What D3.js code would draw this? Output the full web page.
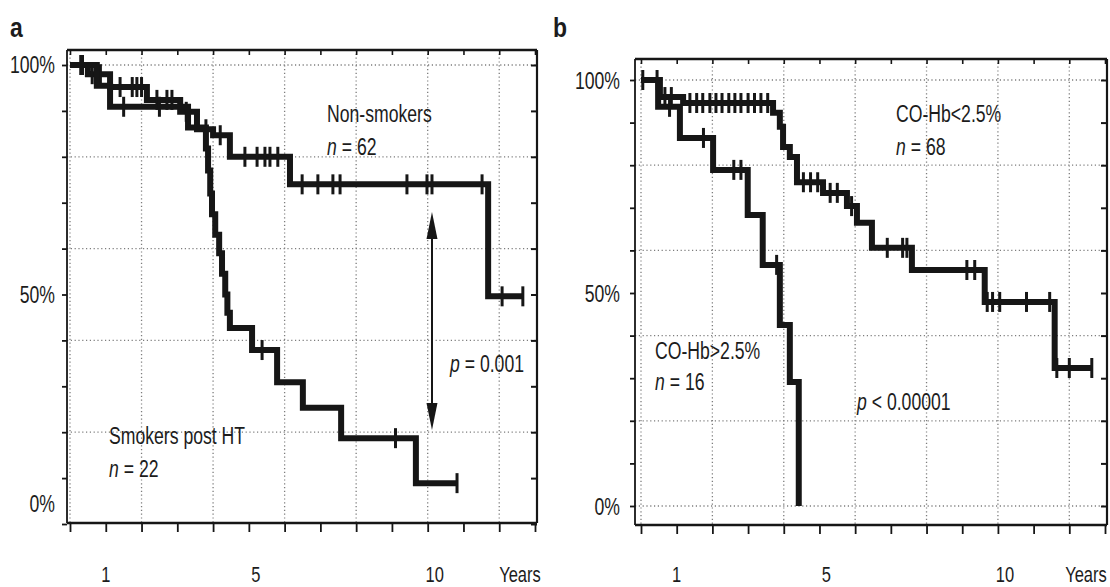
<!DOCTYPE html>
<html>
<head>
<meta charset="utf-8">
<script src="https://cdn.jsdelivr.net/npm/d3@7"></script>
<style>
  html, body { margin: 0; padding: 0; background: #fff; }
  svg { display: block; }
  text { font-family: "Liberation Sans", Arial, Helvetica, sans-serif; fill: #1c1c1c; }
</style>
</head>
<body>
<svg id="chart" width="1110" height="587"></svg>
<script>
// ---------------- data ----------------
const yearTicks = d3.range(0, 14);            // one tick per year
const pctTicks = d3.range(0, 101, 10);        // one tick per 10 %
const gridYears = [0, 2, 4, 6, 8, 10, 12];
const gridPcts = [0, 20, 40, 60, 80, 100];
const yearLabels = [1, 5, 10];
const pctLabels = [100, 50, 0];

// Panel a: survival by smoking status after HT
const nonSmokersTime = [0, 0.5, 1.12, 2.15, 3.08, 3.55, 4.0, 4.47, 6.15, 11.69];
const nonSmokersSurv = [100, 98, 95.2, 92.4, 89.8, 86, 84.7, 80, 74, 49.6];
const nonSmokersEnd = 12.66;
const nonSmokersCensored = [0.3, 0.62, 0.85, 1.4, 1.74, 1.87, 2.0, 2.43, 2.71, 2.85, 3.25, 3.8,
  4.2, 4.89, 5.23, 5.45, 5.59, 5.81, 6.49, 6.93, 7.35, 7.55, 9.42, 9.98, 10.12, 11.52, 12.08, 12.66];

const smokersTime = [0, 0.75, 1.12, 3.3, 3.8, 3.86, 3.92, 3.97, 4.06, 4.17, 4.25, 4.34, 4.4, 4.47,
  5.09, 5.79, 6.51, 7.58, 9.67];
const smokersSurv = [100, 95.5, 90.9, 86.4, 81.8, 77, 72, 67.5, 63, 59, 54.5, 50, 46, 42.7,
  37.9, 30.9, 25.3, 18.7, 8.9];
const smokersEnd = 10.82;
const smokersCensored = [0.35, 1.5, 2.5, 5.37, 9.1, 10.82];

// Arrow between the two curves, panel a
const arrowYear = 10.12;
const arrowLow = 20.5;
const arrowHigh = 68;

// Panel b: survival by CO-Hb level
const lowCoHbTime = [0, 0.53, 1.18, 3.7, 3.89, 3.98, 4.17, 4.37, 5.1, 5.77, 6.05, 6.47, 7.59, 9.63, 11.59];
const lowCoHbSurv = [100, 96, 94.6, 92.3, 89, 84.3, 81.9, 76, 73.5, 70.4, 66.5, 60.6, 55.4, 47.9, 32.4];
const lowCoHbEnd = 12.65;
const lowCoHbCensored = [0.05, 0.45, 0.67, 0.85, 1.37, 1.56, 1.73, 1.93, 2.1, 2.27, 2.46, 2.63, 2.8,
  3.0, 3.18, 3.36, 3.55, 4.55, 4.75, 4.95, 5.3, 5.5, 5.9, 6.9, 7.33, 7.45, 9.13, 9.35, 9.7, 9.85,
  10.05, 10.8, 11.45, 11.65, 12.0, 12.63];

const highCoHbTime = [0, 0.48, 1.09, 2.02, 2.99, 3.41, 3.89, 4.17, 4.42];
const highCoHbSurv = [100, 93.7, 86.4, 78.9, 68.3, 56.6, 42.5, 29.1, 0];
const highCoHbEnd = 4.42;
const highCoHbCensored = [0.8, 1.75, 2.6, 2.8, 3.8];

// ---------------- drawing ----------------
const svg = d3.select("#chart");
const INK = "#161616";
const FONT = 23.5;
const SQUEEZE = 0.75;   // condensed face

function addText(g, x, y, parts, opts = {}) {
  const t = g.append("text")
    .attr("transform", `translate(${x},${y}) scale(${opts.sx || SQUEEZE},1)`)
    .attr("text-anchor", opts.anchor || "start")
    .attr("font-size", opts.size || FONT)
    .attr("font-weight", opts.weight || "normal");
  parts.forEach(p => {
    const s = typeof p === "string" ? { s: p } : p;
    t.append("tspan").attr("font-style", s.italic ? "italic" : "normal").text(s.s);
  });
  return t;
}

function survAt(times, surv, t) {
  const i = Math.max(0, d3.bisectRight(times, t) - 1);
  return surv[i];
}

function drawPanel(cfg) {
  const g = svg.append("g");
  const x = d3.scaleLinear().domain([0, 13]).range(cfg.xRange);
  const y = d3.scaleLinear().domain([0, 100]).range(cfg.yRange);
  const { left, right, top, bottom } = cfg.frame;

  // dotted grid
  const grid = g.append("g").attr("stroke", "#7d7d7d").attr("stroke-width", 1.3)
    .attr("stroke-dasharray", "1.2,2.6").attr("fill", "none");
  cfg.gridPcts.forEach(p => grid.append("line")
    .attr("x1", left).attr("x2", right).attr("y1", y(p)).attr("y2", y(p)));
  gridYears.forEach(v => grid.append("line")
    .attr("x1", x(v)).attr("x2", x(v)).attr("y1", top).attr("y2", bottom));

  // frame
  const frame = g.append("g").attr("stroke", INK).attr("fill", "none");
  frame.append("line").attr("x1", left).attr("x2", right).attr("y1", top).attr("y2", top).attr("stroke-width", 2.4);
  frame.append("line").attr("x1", right).attr("x2", right).attr("y1", top).attr("y2", bottom).attr("stroke-width", 2.2);
  frame.append("line").attr("x1", left).attr("x2", left).attr("y1", top).attr("y2", bottom).attr("stroke-width", 1.8);

  // bottom axis (years)
  const xAxis = d3.axisBottom(x).tickValues(yearTicks).tickSize(9).tickFormat("");
  const gx = g.append("g").attr("transform", `translate(0,${bottom})`).call(xAxis);
  gx.select(".domain").attr("d", `M${left},0H${right}`).attr("stroke", INK).attr("stroke-width", 2.6);
  gx.selectAll(".tick line").attr("stroke", INK).attr("stroke-width", 1.8);

  // top ticks
  const xTop = d3.axisBottom(x).tickValues(yearTicks).tickSize(5).tickFormat("");
  const gt = g.append("g").attr("transform", `translate(0,${top})`).call(xTop);
  gt.select(".domain").remove();
  gt.selectAll(".tick line").attr("stroke", INK).attr("stroke-width", 1.6);

  // left axis (percent)
  const yAxis = d3.axisLeft(y).tickValues(pctTicks).tickSize(5).tickFormat("");
  const gy = g.append("g").attr("transform", `translate(${left},0)`).call(yAxis);
  gy.select(".domain").remove();
  gy.selectAll(".tick line").attr("stroke", INK).attr("stroke-width", 1.8);

  // right inner ticks
  const yRight = d3.axisLeft(y).tickValues(pctTicks).tickSize(6).tickFormat("");
  const gr = g.append("g").attr("transform", `translate(${right},0)`).call(yRight);
  gr.select(".domain").remove();
  gr.selectAll(".tick line").attr("stroke", INK).attr("stroke-width", 2);

  // percent labels
  pctLabels.forEach(p => addText(g, cfg.pctLabelX, y(p) + cfg.pctLabelDy(p), [p + "%"], { anchor: "end" }));
  // year labels
  yearLabels.forEach(v => addText(g, x(v) + (v >= 5 ? 7 : 0), cfg.yearLabelY, [String(v)], { anchor: "middle", size: 22 }));
  addText(g, cfg.yearsX, cfg.yearLabelY, ["Years"], { anchor: "middle", size: 22 });

  // panel letter
  addText(g, cfg.letterX, 37, [cfg.letter], { size: 27, weight: "bold", sx: 0.85 });

  // survival curves
  const line = d3.line().x(d => x(d[0])).y(d => y(d[1])).curve(d3.curveStepAfter);
  cfg.series.forEach(s => {
    const pts = s.time.map((t, i) => [t, s.surv[i]]);
    if (s.end > s.time[s.time.length - 1]) pts.push([s.end, s.surv[s.surv.length - 1]]);
    g.append("path").attr("d", line(pts)).attr("fill", "none")
      .attr("stroke", INK).attr("stroke-width", 6).attr("stroke-linejoin", "miter");
    g.append("g").selectAll("line").data(s.censored).join("line")
      .attr("x1", d => x(d)).attr("x2", d => x(d))
      .attr("y1", d => y(survAt(s.time, s.surv, d)) - 10)
      .attr("y2", d => y(survAt(s.time, s.surv, d)) + 10)
      .attr("stroke", INK).attr("stroke-width", 3);
  });

  cfg.annotate(g, x, y);
}

// Panel a
drawPanel({
  letter: "a", letterX: 10,
  xRange: [70, 535], yRange: [524, 65],
  frame: { left: 67, right: 537, top: 50, bottom: 523 },
  gridPcts: [20, 40, 60, 80, 100],
  pctLabelX: 55,
  pctLabelDy: p => (p === 0 ? -12 : 8),
  yearLabelY: 582, yearsX: 520,
  series: [
    { time: nonSmokersTime, surv: nonSmokersSurv, end: nonSmokersEnd, censored: nonSmokersCensored },
    { time: smokersTime, surv: smokersSurv, end: smokersEnd, censored: smokersCensored }
  ],
  annotate: (g, x, y) => {
    addText(g, 327, 122, ["Non-smokers"]);
    addText(g, 327, 155, [{ s: "n", italic: true }, " = 62"]);
    addText(g, 109, 444, ["Smokers post HT"]);
    addText(g, 109, 477, [{ s: "n", italic: true }, " = 22"]);
    addText(g, 450, 372, [{ s: "p", italic: true }, " = 0.001"]);
    // double-headed arrow
    const ax = x(arrowYear), yTop = y(arrowHigh), yBot = y(arrowLow);
    g.append("line").attr("x1", ax).attr("x2", ax).attr("y1", yTop + 20).attr("y2", yBot - 20)
      .attr("stroke", INK).attr("stroke-width", 2);
    g.append("path").attr("d", `M${ax},${yTop}L${ax - 5.5},${yTop + 27}L${ax + 5.5},${yTop + 27}Z`).attr("fill", INK);
    g.append("path").attr("d", `M${ax},${yBot}L${ax - 5.5},${yBot - 27}L${ax + 5.5},${yBot - 27}Z`).attr("fill", INK);
  }
});

// Panel b
drawPanel({
  letter: "b", letterX: 553,
  xRange: [641, 1105], yRange: [506, 80],
  frame: { left: 635, right: 1107, top: 59, bottom: 525 },
  gridPcts: [0, 20, 40, 60, 80, 100],
  pctLabelX: 620,
  pctLabelDy: () => 9,
  yearLabelY: 582, yearsX: 1086,
  series: [
    { time: lowCoHbTime, surv: lowCoHbSurv, end: lowCoHbEnd, censored: lowCoHbCensored },
    { time: highCoHbTime, surv: highCoHbSurv, end: highCoHbEnd, censored: highCoHbCensored }
  ],
  annotate: (g) => {
    addText(g, 896, 122, ["CO-Hb<2.5%"]);
    addText(g, 896, 155, [{ s: "n", italic: true }, " = 68"]);
    addText(g, 655, 359, ["CO-Hb>2.5%"]);
    addText(g, 655, 390, [{ s: "n", italic: true }, " = 16"]);
    addText(g, 857, 410, [{ s: "p", italic: true }, " < 0.00001"]);
  }
});
</script>
</body>
</html>
